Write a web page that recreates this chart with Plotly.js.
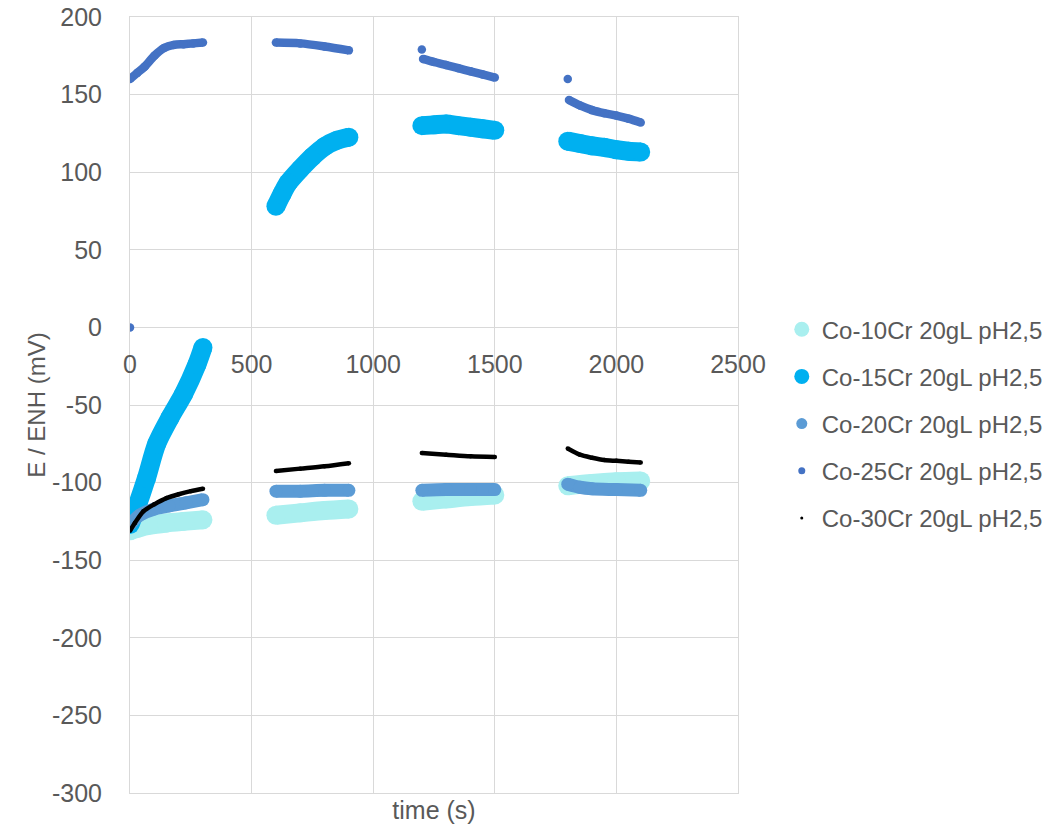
<!DOCTYPE html>
<html>
<head>
<meta charset="utf-8">
<script src="https://cdn.plot.ly/plotly-3.0.1.min.js"></script>
<style>html,body{margin:0;padding:0;background:#fff;overflow:hidden;}</style>
</head>
<body>
<div id="chart" style="width:1051px;height:830px;"></div>
<script>
// ---- data ----
var seriesNames = ["Co-10Cr 20gL pH2,5", "Co-15Cr 20gL pH2,5", "Co-20Cr 20gL pH2,5", "Co-25Cr 20gL pH2,5", "Co-30Cr 20gL pH2,5"];

var x10 = [0, 30, 80, 150, 220, 300, null, 600, 700, 800, 900, null, 1200, 1300, 1400, 1500, null, 1800, 1900, 2000, 2100];
var y10 = [-131, -129.5, -127.5, -126, -125, -124, null, -121, -119.5, -118, -117, null, -112, -110.5, -109, -108, null, -102, -100.5, -99.5, -99];

var x15 = [0, 27, 68, 110, 165, 220, 275, 300, null, 600, 625, 650, 700, 750, 800, 850, 900, null, 1200, 1250, 1300, 1350, 1400, 1450, 1500, null, 1800, 1850, 1900, 1950, 2000, 2050, 2100];
var y15 = [-127, -116, -97, -75, -58, -43, -24, -13, null, 78, 86, 93, 102, 110, 116.5, 120.5, 122.5, null, 130, 130.5, 131, 130, 129, 128, 127, null, 120, 118.5, 117, 116, 114.5, 113.5, 113];

var x20 = [0, 40, 100, 160, 230, 300, null, 600, 700, 800, 900, null, 1200, 1300, 1400, 1500, null, 1800, 1850, 1900, 2000, 2100];
var y20 = [-127, -121, -117, -115, -113, -111, null, -105.5, -105.5, -105, -105, null, -105, -104.5, -104.5, -104.5, null, -101, -103, -104, -104.5, -105];

var x25 = [0, null, 0, 30, 60, 100, 140, 180, 220, 260, 300, null, 600, 700, 800, 900, null, 1200, null, 1205, 1250, 1300, 1350, 1400, 1450, 1500, null, 1800, null, 1805, 1850, 1900, 1950, 2000, 2050, 2100];
var y25 = [0, null, 160, 164, 168, 175, 180, 182, 182.5, 183, 183.5, null, 183.5, 183, 181, 178.5, null, 179, null, 173, 171, 169, 167, 165, 163, 161, null, 160, null, 146.5, 143, 140, 138, 136.5, 134.5, 132];

var x30 = [0, 20, 55, 100, 150, 200, 250, 300, null, 600, 700, 800, 900, null, 1200, 1300, 1400, 1500, null, 1800, 1850, 1900, 1950, 2000, 2050, 2100];
var y30 = [-131, -126, -118.5, -114, -110, -107.5, -105.5, -104, null, -92.5, -91, -89.5, -87.5, null, -81, -82, -83, -83.5, null, -78, -82, -84, -85.5, -86, -86.5, -87];

var xTickVals = [0, 500, 1000, 1500, 2000, 2500];
var xTickText = ["0", "500", "1000", "1500", "2000", "2500"];
var yTickVals = [-300, -250, -200, -150, -100, -50, 0, 50, 100, 150, 200];
var yTickText = ["-300", "-250", "-200", "-150", "-100", "-50", "0", "50", "100", "150", "200"];

// ---- styles ----
var colors = ["#A9EFEF", "#00B0F0", "#5B9BD5", "#4472C4", "#000000"];
var plotSizes = [19, 19, 13, 8.5, 4.5];
var legendSizes = [15, 15, 11, 7, 3];
var xs = [x10, x15, x20, x25, x30];
var ys = [y10, y15, y20, y25, y30];

var traces = [];
for (var i = 0; i < seriesNames.length; i++) {
  traces.push({
    type: "scatter", mode: "lines+markers",
    x: xs[i], y: ys[i], connectgaps: false,
    name: seriesNames[i], showlegend: false, hoverinfo: "skip",
    line: {color: colors[i], width: plotSizes[i], shape: "spline", smoothing: 0.8},
    marker: {color: colors[i], size: plotSizes[i], line: {width: 0}}
  });
}
for (var j = 0; j < seriesNames.length; j++) {
  traces.push({
    type: "scatter", mode: "markers",
    x: [null], y: [null], xaxis: "x2", yaxis: "y",
    name: seriesNames[j], legendgroup: "g" + j, showlegend: true,
    marker: {color: colors[j], size: legendSizes[j], line: {width: 0}}
  });
}

var font = "Liberation Sans, Arial, sans-serif";
var grey = "#595959";
var grid = "#d9d9d9";

var layout = {
  width: 1051, height: 830,
  margin: {l: 130, r: 313, t: 17, b: 37, pad: 0, autoexpand: false},
  paper_bgcolor: "#ffffff", plot_bgcolor: "#ffffff",
  font: {family: font, color: grey, size: 24},
  showlegend: true,
  xaxis: {
    range: [0, 2500], tickvals: xTickVals, showticklabels: false,
    showgrid: true, gridcolor: grid, gridwidth: 1,
    zeroline: false, showline: true, linecolor: grid, linewidth: 1, mirror: true,
    ticks: "",
    title: {text: "time (s)", font: {family: font, size: 25, color: grey}, standoff: 8}
  },
  xaxis2: {
    overlaying: "x", anchor: "free", position: 0.6,
    range: [0, 2500], tickvals: xTickVals, ticktext: xTickText,
    showgrid: false, zeroline: false, showline: false, ticks: "",
    tickfont: {family: font, size: 25, color: grey},
    ticklabelstandoff: 20
  },
  yaxis: {
    range: [-300, 200], tickvals: yTickVals, ticktext: yTickText,
    showgrid: true, gridcolor: grid, gridwidth: 1,
    zeroline: false, showline: true, linecolor: grid, linewidth: 1, mirror: true,
    ticks: "", ticklabelstandoff: 22,
    tickfont: {family: font, size: 25, color: grey},
    title: {text: "E / ENH (mV)", font: {family: font, size: 24, color: grey}}
  },
  legend: {
    x: 1.072, xanchor: "left", y: 0.476, yanchor: "middle",
    font: {family: font, size: 24, color: grey},
    bgcolor: "rgba(0,0,0,0)", tracegroupgap: 13, itemsizing: "trace"
  }
};

Plotly.newPlot("chart", traces, layout, {displayModeBar: false, staticPlot: true});
</script>
</body>
</html>
